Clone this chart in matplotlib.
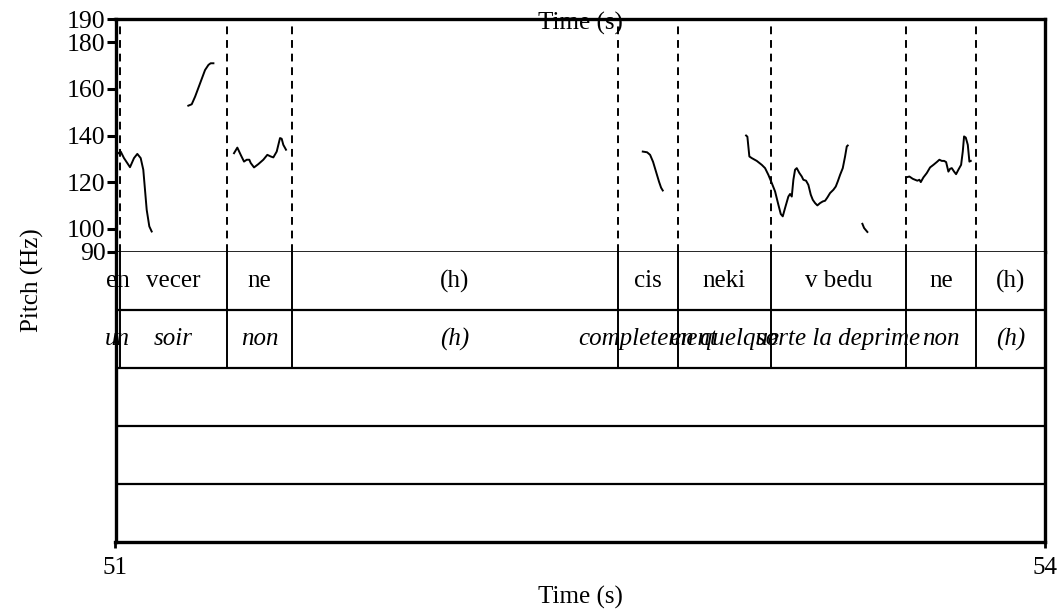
import numpy as np
import matplotlib.pyplot as plt

plt.rcParams['font.family'] = ['Liberation Serif', 'DejaVu Serif']
plt.rcParams['font.size'] = 18

#%% Data (time in s, pitch in Hz)

t_seg1 = [51.0058, 51.0168, 51.0274, 51.0468, 51.0597, 51.0704, 51.0813, 51.0897,
          51.0952, 51.1007, 51.1091, 51.1168]
hz_seg1 = [132.1, 133.1, 130.3, 126.4, 130.3, 132.1, 130.3, 125.3, 116.7, 108.1, 101.0, 98.8]

t_seg2 = [51.235, 51.246, 51.257, 51.273, 51.289, 51.300, 51.307, 51.316]
hz_seg2 = [152.8, 153.4, 156.7, 162.4, 168.1, 170.3, 171.0, 171.0]

t_seg3 = [51.3825, 51.3932, 51.4041, 51.4148, 51.4235, 51.4319, 51.4364, 51.4471, 51.4609,
          51.4771, 51.4900, 51.5010, 51.5094, 51.5203, 51.5310, 51.5364, 51.5416, 51.5503]
hz_seg3 = [132.4, 134.8, 131.7, 128.8, 129.6, 129.6, 128.2, 126.3, 127.7,
           129.6, 131.7, 131.0, 130.6, 133.1, 138.9, 138.6, 136.0, 133.9]

t_seg4 = [52.7018, 52.7157, 52.7254, 52.7350, 52.7447, 52.7544, 52.7609, 52.7663]
hz_seg4 = [133.1, 132.8, 131.7, 128.7, 124.4, 120.1, 117.6, 116.4]

t_seg5 = [53.0352, 53.0394, 53.0458, 53.0536, 53.0697, 53.0859, 53.0965, 53.1072, 53.1181,
          53.1288, 53.1394, 53.1472, 53.1536, 53.1611, 53.1717, 53.1772, 53.1827, 53.1879,
          53.1933, 53.1988, 53.2072, 53.2150, 53.2201, 53.2288, 53.2363, 53.2440, 53.2505,
          53.2579, 53.2653, 53.2741, 53.2828, 53.2902, 53.2976, 53.3063, 53.3170, 53.3247,
          53.3312, 53.3386, 53.3473, 53.3547, 53.3602, 53.3634]
hz_seg5 = [140.0, 139.5, 131.0, 130.3, 129.1, 127.4, 126.0, 123.1, 119.6,
           116.0, 110.3, 106.3, 105.3, 108.9, 113.8, 114.9, 113.8, 121.0,
           125.3, 126.0, 123.9, 122.4, 121.0, 120.6, 118.8, 114.6, 112.4,
           111.0, 110.0, 111.0, 111.7, 112.0, 113.4, 115.3, 116.7, 118.1,
           120.3, 123.1, 126.0, 131.0, 135.3, 135.7]

t_seg6 = [53.4106, 53.4161, 53.4267]
hz_seg6 = [102.1, 100.3, 98.6]

t_seg7 = [53.5517, 53.5623, 53.5733, 53.5807, 53.5881, 53.5946, 53.5991, 53.6075, 53.6185,
          53.6291, 53.6398, 53.6507, 53.6591, 53.6669, 53.6743, 53.6808, 53.6882, 53.6937,
          53.6991, 53.7066, 53.7130, 53.7204, 53.7292, 53.7346, 53.7388, 53.7443, 53.7508,
          53.7560, 53.7605]
hz_seg7 = [122.0, 122.4, 121.4, 121.0, 120.6, 121.0, 120.0, 122.0, 123.9,
           126.3, 127.4, 128.6, 129.6, 129.1, 129.1, 128.6, 124.5, 125.7,
           126.0, 124.5, 123.4, 125.3, 127.4, 133.1, 139.6, 139.1, 136.0,
           128.8, 129.1]

# interval tiers (same boundaries for both annotated tiers)
edges = [51.0, 51.0145, 51.3599, 51.5697, 52.6211, 52.8141, 53.1159, 53.5507, 53.7766, 54.0]
tier1_labels = ['en', 'vecer', 'ne', '(h)', 'cis', 'neki', 'v bedu', 'ne', '(h)']
tier2_labels = ['un', 'soir', 'non', '(h)', 'completement', 'en quelque',
                'sorte la deprime', 'non', '(h)']
n_tiers = 5

pitch_ticks = [90, 100, 120, 140, 160, 180, 190]
t_min, t_max = 51, 54
f_min, f_max = 90, 190

#%% Plotting

W, H = 1058, 614
fig = plt.figure(figsize=(W / 100, H / 100), dpi=100)

left, right = 115.5 / W, 1045 / W
y_top, y_mid, y_bot = 1 - 19 / H, 1 - 252 / H, 1 - 542 / H

ax = fig.add_axes([left, y_mid, right - left, y_top - y_mid])
ax2 = fig.add_axes([left, y_bot, right - left, y_mid - y_bot])

# pitch contour
for tt, ff in [(t_seg1, hz_seg1), (t_seg2, hz_seg2), (t_seg3, hz_seg3), (t_seg4, hz_seg4),
               (t_seg5, hz_seg5), (t_seg6, hz_seg6), (t_seg7, hz_seg7)]:
    ax.plot(tt, ff, color='black', lw=1.4, solid_joinstyle='round')

# dashed boundaries in pitch area
for b in edges[1:-1]:
    ax.axvline(b, color='black', lw=1.4, linestyle=(0, (4, 3)))

ax.set_xlim(t_min, t_max)
ax.set_ylim(f_min, f_max)
ax.set_xticks([])
ax.set_yticks(pitch_ticks)
ax.tick_params(axis='y', direction='out', length=6.5, width=2.2, pad=0.5, labelsize=18.5)
for s in ['top', 'left', 'right']:
    ax.spines[s].set_linewidth(2.4)
ax.spines['bottom'].set_linewidth(1.2)

# tiers
ax2.set_xlim(t_min, t_max)
ax2.set_ylim(0, n_tiers)
for k in range(1, n_tiers):
    ax2.axhline(k, color='black', lw=1.6)
for b in edges[1:-1]:
    ax2.plot([b, b], [n_tiers - 2, n_tiers], color='black', lw=1.4)

centers = [(a + b) / 2 for a, b in zip(edges[:-1], edges[1:])]
for c, lab in zip(centers, tier1_labels):
    ax2.text(c, n_tiers - 0.5, lab, ha='center', va='center', fontsize=18, clip_on=False)
for c, lab in zip(centers, tier2_labels):
    ax2.text(c, n_tiers - 1.5, lab, ha='center', va='center', fontsize=18,
             style='italic', clip_on=False)

ax2.set_yticks([])
ax2.set_xticks([t_min, t_max])
ax2.set_xticklabels([str(t_min), str(t_max)])
ax2.tick_params(axis='x', direction='out', length=4, width=2, pad=7, labelsize=18)
for s in ['bottom', 'left', 'right']:
    ax2.spines[s].set_linewidth(2.4)
ax2.spines['top'].set_visible(False)
ax2.set_xlabel('Time (s)', fontsize=18, labelpad=5)

# labels spanning the whole frame
fig.text(580 / W, 1 - 23 / H, 'Time (s)', ha='center', va='center', fontsize=18)
fig.text(32 / W, 1 - 280 / H, 'Pitch (Hz)', ha='center', va='center',
         rotation=90, fontsize=18)

fig.savefig('out.png', dpi=100)
